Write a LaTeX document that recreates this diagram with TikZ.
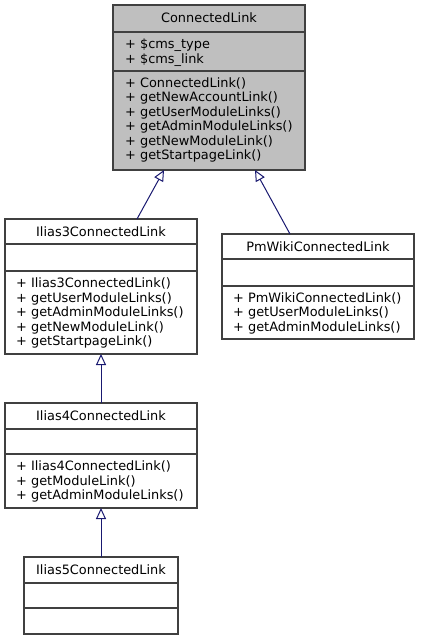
\documentclass[tikz,border=0pt]{standalone}
\usepackage{fontspec}
\setmainfont{DejaVu Sans}
\usetikzlibrary{arrows.meta}
\definecolor{edgeblue}{HTML}{191970}
\definecolor{boxline}{HTML}{404040}
\definecolor{rootfill}{HTML}{BFBFBF}
\tikzset{
  classbox/.style={draw=boxline, line width=1.2pt, fill=white, rectangle, inner sep=0pt, outer sep=0pt, anchor=north west},
  rootbox/.style={classbox, fill=rootfill},
  sepline/.style={draw=boxline, line width=1.2pt},
  txt/.style={font=\fontsize{12.9}{14.5}\selectfont, inner sep=0pt, anchor=base west},
  title/.style={font=\fontsize{12.9}{14.5}\selectfont, inner sep=0pt, anchor=base},
  inh/.style={draw=edgeblue, line width=1pt, -{Triangle[open, length=11pt, width=10pt, fill=white]}},
}
\newcommand{\classlines}[4]{% x, first baseline, prefix, list
  \foreach \t [count=\i from 0] in {#4} {
    \node[txt] (#3\i) at (#1, #2+14.5*\i) {\t};
  }
}
\begin{document}
\begin{tikzpicture}[x=1pt, y=-1pt]
\useasboundingbox (0,0) rectangle (421,640);

% ConnectedLink
\node[rootbox, minimum width=192pt, minimum height=165pt] (cl) at (113,5) {};
\draw[sepline] (113,32) -- (305,32);
\draw[sepline] (113,71) -- (305,71);
\node[title] (cltitle) at (209,22.3) {ConnectedLink};
\classlines{125}{48.5}{cla}{+ \$cms\_type, + \$cms\_link}
\classlines{125}{87}{clm}{+ ConnectedLink(), + getNewAccountLink(), + getUserModuleLinks(), + getAdminModuleLinks(), + getNewModuleLink(), + getStartpageLink()}

% Ilias3ConnectedLink
\node[classbox, minimum width=192pt, minimum height=135pt] (i3) at (5,219) {};
\draw[sepline] (5,244) -- (197,244);
\draw[sepline] (5,271) -- (197,271);
\node[title] (i3title) at (101,236) {Ilias3ConnectedLink};
\classlines{16}{287.5}{i3m}{+ Ilias3ConnectedLink(), + getUserModuleLinks(), + getAdminModuleLinks(), + getNewModuleLink(), + getStartpageLink()}

% PmWikiConnectedLink
\node[classbox, minimum width=192pt, minimum height=105pt] (pm) at (222,234) {};
\draw[sepline] (222,259) -- (414,259);
\draw[sepline] (222,286) -- (414,286);
\node[title] (pmtitle) at (318,251) {PmWikiConnectedLink};
\classlines{233}{302}{pmm}{+ PmWikiConnectedLink(), + getUserModuleLinks(), + getAdminModuleLinks()}

% Ilias4ConnectedLink
\node[classbox, minimum width=192pt, minimum height=105pt] (i4) at (5,403) {};
\draw[sepline] (5,429) -- (197,429);
\draw[sepline] (5,454) -- (197,454);
\node[title] (i4title) at (101,420) {Ilias4ConnectedLink};
\classlines{16}{470.5}{i4m}{+ Ilias4ConnectedLink(), + getModuleLink(), + getAdminModuleLinks()}

% Ilias5ConnectedLink
\node[classbox, minimum width=154pt, minimum height=77pt] (i5) at (24,557) {};
\draw[sepline] (24,583) -- (178,583);
\draw[sepline] (24,608) -- (178,608);
\node[title] (i5title) at (101,574) {Ilias5ConnectedLink};

% connector endpoints
\coordinate (i3top) at (137,219);
\coordinate (clbl) at (164,170);
\coordinate (pmtop) at (290,234);
\coordinate (clbr) at (255,170);
\coordinate (i3bot) at (101,354);
\coordinate (i4top) at (101,403);
\coordinate (i4bot) at (101,508);
\coordinate (i5top) at (101,557);

\draw[inh] (i3top) -- (clbl);
\draw[inh] (pmtop) -- (clbr);
\draw[inh] (i4top) -- (i3bot);
\draw[inh] (i5top) -- (i4bot);
\end{tikzpicture}
\end{document}
